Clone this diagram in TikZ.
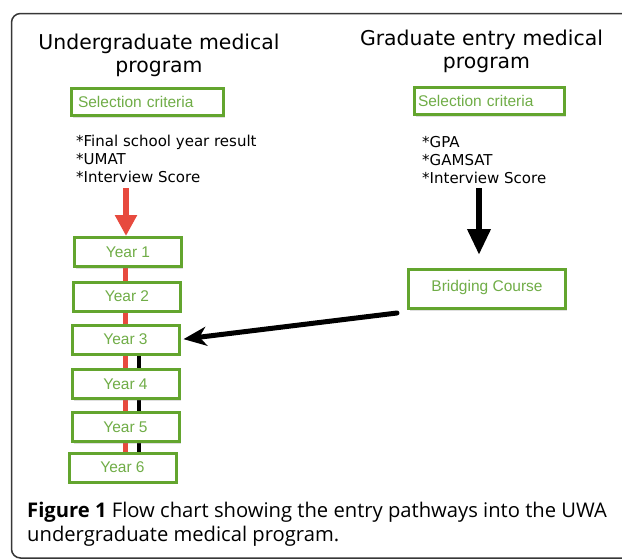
\documentclass[tikz,border=0pt]{standalone}
\usepackage{fontspec}
\setmainfont{DejaVu Sans}
\newfontfamily\boxfont{Liberation Sans}
\newfontfamily\capfont{Open Sans}
\usetikzlibrary{arrows.meta,shadows,calc}
\definecolor{bgreen}{RGB}{99,165,46}
\definecolor{tgreen}{RGB}{112,173,71}
\definecolor{ared}{RGB}{231,74,62}
\definecolor{framecol}{RGB}{55,55,55}
\pgfdeclarelayer{bg}
\pgfsetlayers{bg,main}
\tikzset{
  title/.style={anchor=base, inner sep=0pt, font=\fontsize{20.4}{24}\selectfont},
  crit/.style={anchor=base west, inner sep=0pt, align=left, font=\fontsize{15}{18}\selectfont},
  gbox/.style={draw=bgreen, line width=3pt, fill=white, text=tgreen,
    font=\boxfont\fontsize{15.5}{18}\selectfont,
    drop shadow={shadow xshift=1.5pt, shadow yshift=-2pt, opacity=0.25}},
  selbox/.style={gbox, minimum width=152pt, minimum height=27pt, inner xsep=0pt, inner ysep=0pt},
  yearbox/.style={gbox, minimum width=107pt, minimum height=29pt, inner sep=0pt},
  redlink/.style={ared, line width=5pt},
  blacklink/.style={black, line width=4pt},
  captext/.style={anchor=base west, inner sep=0pt, font=\capfont\fontsize{20.2}{24}\selectfont},
}
\begin{document}
\begin{tikzpicture}[x=1pt,y=-1pt]
\useasboundingbox (0,0) rectangle (622,560);
\begin{scope}
\clip (0,0) rectangle (622,560);
\draw[framecol, line width=1.5pt, rounded corners=9pt] (11.5,13.5) rectangle (680,558);
\end{scope}

% titles
\node[title] (t1a) at (159,49) {Undergraduate medical};
\node[title] (t1b) at (159,72) {program};
\node[title] (t2a) at (481.5,45) {Graduate entry medical};
\node[title] (t2b) at (486.5,68) {program};

% selection boxes
\node[selbox, text width=139pt, align=left] (s1) at (147.5,102) {Selection criteria};
\node[selbox, minimum width=150pt, text width=143pt, align=left] (s2) at (489.5,101) {Selection criteria};

% criteria lists
\node[crit] (c1a) at (76,146) {*Final school year result};
\node[crit] (c1b) at (76,164) {*UMAT};
\node[crit] (c1c) at (76,182) {*Interview Score};
\node[crit] (c2a) at (422,147) {*GPA};
\node[crit] (c2b) at (422,165) {*GAMSAT};
\node[crit] (c2c) at (422,183) {*Interview Score};

% year boxes
\node[yearbox] (y1) at (128,252) {Year 1};
\node[yearbox] (y2) at (127,296.5) {Year 2};
\node[yearbox] (y3) at (125.5,339.5) {Year 3};
\node[yearbox] (y4) at (125.5,384) {Year 4};
\node[yearbox] (y5) at (125.5,427) {Year 5};
\node[yearbox] (y6) at (122.5,467.5) {Year 6};

% bridging course
\node[gbox, minimum width=157pt, minimum height=39pt, inner sep=0pt] (bc) at (487,289) {\raisebox{6pt}{Bridging Course}};

% connector coordinates
\coordinate (rx) at (125.5,0);
\coordinate (bx) at (139.3,0);
\coordinate (ra) at (126,188);
\coordinate (ba) at (479,188);
\coordinate (ds) at (397,313);

\begin{pgfonlayer}{bg}
\draw[redlink] (y1.south -| rx) -- (y6.north -| rx);
\draw[blacklink] (y3.south -| bx) -- (y6.north -| bx);
\end{pgfonlayer}

% arrows
\draw[ared, line width=6pt, -{Triangle[width=21pt,length=21pt]}] (ra) -- (ra |- y1.north);
\draw[black, line width=6.5pt, shorten >=13pt, -{Triangle[width=22pt,length=26pt]}] (ba) -- (ba |- bc.north);
\draw[black, line width=5pt, line cap=round, shorten >=3pt, -{Stealth[width=19pt,length=23pt,inset=7pt]}] (ds) -- (y3.east);

% caption
\node[captext] (cap1) at (27,517) {\textbf{Figure 1} Flow chart showing the entry pathways into the UWA};
\node[captext] (cap2) at (27,541) {undergraduate medical program.};
\end{tikzpicture}
\end{document}
